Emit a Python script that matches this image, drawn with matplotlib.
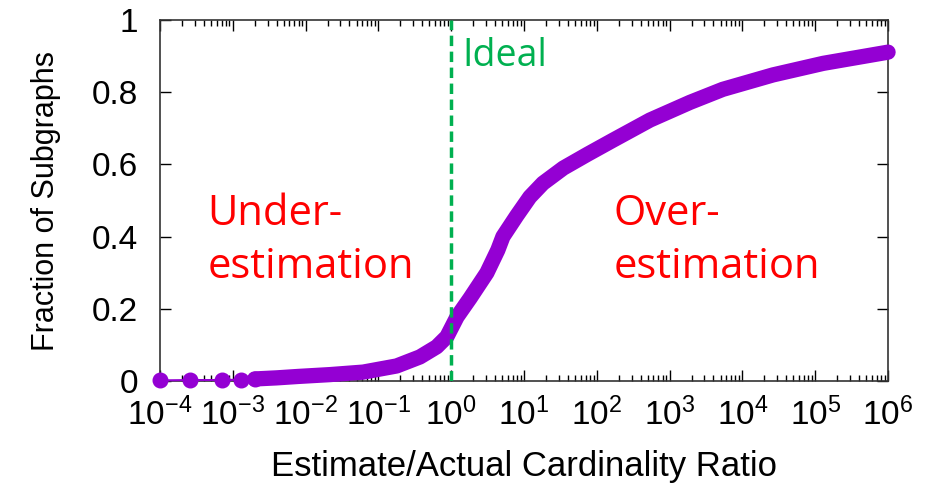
import math
import numpy as np
import matplotlib
matplotlib.use('Agg')
import matplotlib.pyplot as plt
from matplotlib.ticker import LogLocator, NullFormatter, FuncFormatter

# isolated points at the far left (drawn as separate dots)
sparse_ratio = [1e-4, 2.6e-4, 7e-4, 1.3e-3, 2.0e-3]
sparse_frac = [0.002, 0.003, 0.003, 0.004, 0.005]

# the dense part of the CDF (x as log10 of the ratio)
log_ratio = [-2.7, -2.4, -2.1, -1.67, -1.21, -0.75, -0.43, -0.2, -0.06, 0.08,
             0.26, 0.49, 0.64, 0.71, 0.9, 1.08, 1.26, 1.54, 1.87, 2.22, 2.73,
             3.28, 3.73, 4.42, 5.11, 6.0]
fraction = [0.006, 0.009, 0.013, 0.018, 0.025, 0.042, 0.067, 0.095, 0.123, 0.178,
            0.23, 0.30, 0.363, 0.40, 0.458, 0.51, 0.548, 0.59, 0.628, 0.667, 0.723,
            0.772, 0.808, 0.848, 0.88, 0.911]
y_ticks = [0, 0.2, 0.4, 0.6, 0.8, 1]

plt.rcParams['font.family'] = ['Liberation Sans', 'DejaVu Sans']
plt.rcParams['mathtext.fontset'] = 'custom'
plt.rcParams['mathtext.rm'] = 'Liberation Sans'
plt.rcParams['mathtext.it'] = 'Liberation Sans'

purple = '#9400D3'
fig = plt.figure(figsize=(9.27, 4.88), dpi=100)
ax = fig.add_axes([0.1726, 0.219, 0.7854, 0.740])

ax.plot(sparse_ratio, sparse_frac, color=purple, lw=1.5, marker='o', ms=10.5,
        clip_on=False, zorder=3)
ax.plot(10 ** np.array(log_ratio), fraction, color=purple, lw=11,
        solid_capstyle='round', solid_joinstyle='round', clip_on=False, zorder=3)
ax.axvline(1, color='#00B050', lw=2.5, ls=(0, (3, 1.6)), zorder=4)

ax.set_xscale('log')
ax.set_xlim(1e-4, 1e6)
ax.set_ylim(0, 1)
ax.set_yticks(y_ticks)
ax.yaxis.set_major_formatter(FuncFormatter(lambda v, p: '%g' % v))
ax.xaxis.set_major_locator(LogLocator(base=10, numticks=20))
ax.xaxis.set_minor_locator(LogLocator(base=10, subs=range(2, 10), numticks=20))
ax.xaxis.set_minor_formatter(NullFormatter())
ax.xaxis.set_major_formatter(FuncFormatter(lambda v, p: r'$10^{%d}$' % round(math.log10(v))))

ax.tick_params(which='both', direction='in', top=True, right=True, labelsize=24)
ax.tick_params(axis='x', pad=12)
ax.tick_params(axis='y', pad=16)
ax.tick_params(which='major', length=8, width=1)
ax.tick_params(which='minor', length=4, width=1)
for s in ax.spines.values():
    s.set_linewidth(1.2)
    s.set_color('#333333')

ax.set_xlabel('Estimate/Actual Cardinality Ratio', fontsize=25, labelpad=13)
ax.set_ylabel('Fraction of Subgraphs', fontsize=22, labelpad=22)

ax.text(0.065, 0.39, 'Under-\nestimation', transform=ax.transAxes, color='red',
        fontsize=30, family='Open Sans', linespacing=1.35, va='center', ha='left')
ax.text(0.623, 0.39, 'Over-\nestimation', transform=ax.transAxes, color='red',
        fontsize=30, family='Open Sans', linespacing=1.35, va='center', ha='left')
ax.text(0.415, 0.9, 'Ideal', transform=ax.transAxes, color='#00B050',
        fontsize=27, family='Open Sans', va='center', ha='left')

fig.savefig('out.png', dpi=100)
